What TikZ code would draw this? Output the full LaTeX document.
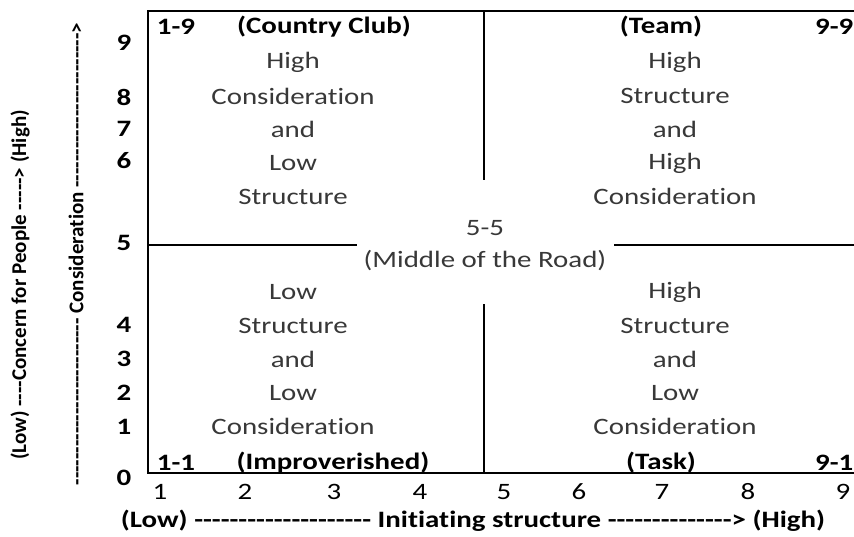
\documentclass[tikz,border=0pt]{standalone}
\usepackage{fontspec}
\setmainfont[FakeStretch=1.23,Ligatures={TeXOff,NoCommon}]{Carlito}
\newfontfamily\uprightlbl[Ligatures={TeXOff,NoCommon}]{Carlito}

\begin{document}
\begin{tikzpicture}[x=1pt,y=-1pt,
	tag/.style={font=\bfseries\fontsize{23.5}{24}\selectfont},
	body/.style={text=black!78,font=\fontsize{23.5}{24}\selectfont},
	num/.style={font=\fontsize{23.5}{24}\selectfont},
	side/.style={rotate=90,font=\uprightlbl\bfseries\fontsize{21}{22}\selectfont}]
	\useasboundingbox (0,0) rectangle (854,536);
	% grid frame
	\coordinate (TL) at (148,11);
	\coordinate (BL) at (148,473);
	\coordinate (TR) at (854,11);
	\coordinate (BR) at (854,473);
	\coordinate (Vt) at (484,11);
	\coordinate (Vb) at (484,473);
	\draw[line width=1.3pt] (TR) -- (TL) -- (BL) -- (BR);
	\draw[line width=1.3pt] (Vt) -- (484,180) coordinate (Va);
	\draw[line width=1.3pt] (484,304) coordinate (Vc) -- (Vb);
	\draw[line width=1.3pt] (148,245) coordinate (Ml) -- (357,245) coordinate (Ma);
	\draw[line width=1.3pt] (614,245) coordinate (Mc) -- (854,245) coordinate (Mr);
	% corner styles
	\node[tag] (n19) at (176,27) {1-9};
	\node[tag] (cclub) at (324,27) {(Country Club)};
	\node[tag] (team) at (661,27) {(Team)};
	\node[tag,anchor=east,inner sep=0.5pt] (n99) at (854,27) {9-9};
	\node[tag] (n11) at (176,463) {1-1};
	\node[tag] (impov) at (333,463) {(Improverished)};
	\node[tag] (task) at (661,463) {(Task)};
	\node[tag,anchor=east,inner sep=0.5pt] (n91) at (854,463) {9-1};
	% quadrant texts
	\foreach \txt [count=\i] in {High,Consideration,and,Low,Structure}
		\node[body] (tl\i) at (293,29+33.5*\i) {\txt};
	\foreach \txt [count=\i] in {High,Structure,and,High,Consideration}
		\node[body] (tr\i) at (675,29+33.5*\i) {\txt};
	\foreach \txt [count=\i] in {Low,Structure,and,Low,Consideration}
		\node[body] (bl\i) at (293,259+33.5*\i) {\txt};
	\foreach \txt [count=\i] in {High,Structure,and,Low,Consideration}
		\node[body] (br\i) at (675,259+33.5*\i) {\txt};
	\node[body] (mid) at (485,228) {5-5};
	\node[body] (road) at (485,261) {(Middle of the Road)};
	% axis numbers
	\foreach \v/\y in {9/43,8/97,7/129,6/161,5/243,4/325,3/359,2/393,1/427,0/478}
		\node[tag] (y\v) at (124,\y) {\v};
	\foreach \v/\x in {1/160,2/245,3/334,4/420,5/504,6/579,7/662,8/748,9/843}
		\node[num] (x\v) at (\x,492) {\v};
	% axis titles
	\node[tag] (xtitle) at (473,521) {(Low) -------------------- Initiating structure --------------{>} (High)};
	\node[side] (ytitle) at (20,285) {(Low) ----Concern for People -----{>} (High)};
	\node[side] (ctitle) at (76,254) {-------------------------- Consideration ------------------------{>}};
\end{tikzpicture}
\end{document}
